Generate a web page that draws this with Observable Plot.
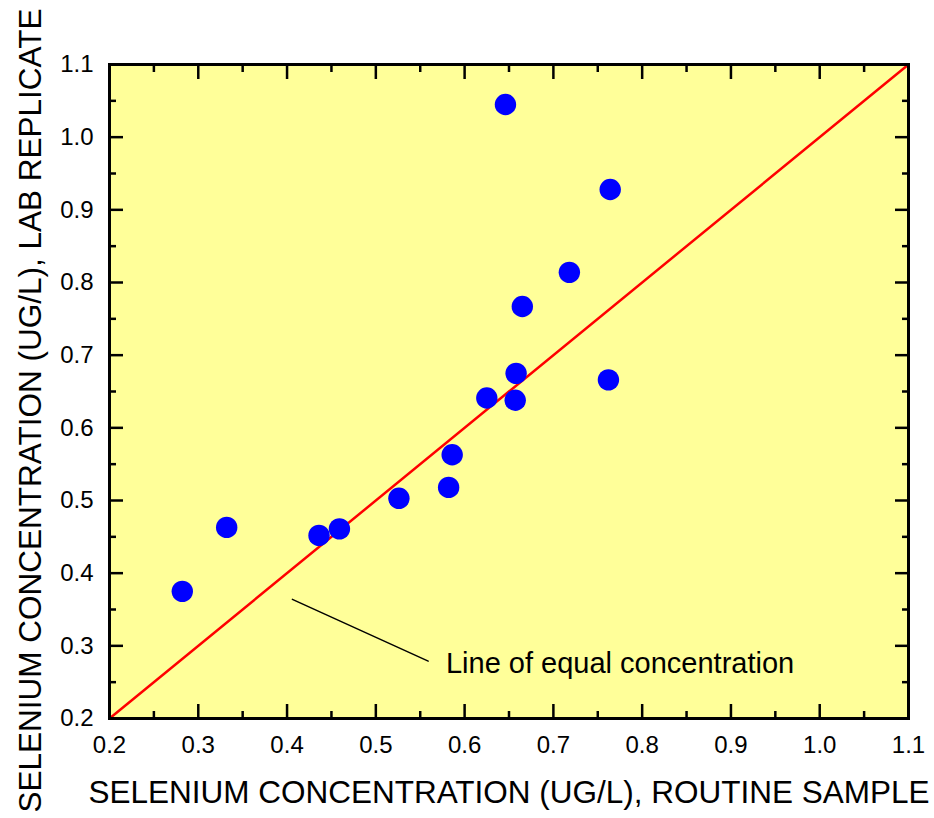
<!DOCTYPE html>
<html>
<head>
<meta charset="utf-8">
<script src="https://cdn.jsdelivr.net/npm/d3@7"></script>
<script src="https://cdn.jsdelivr.net/npm/@observablehq/plot@0.6"></script>
<style>
  html, body { margin: 0; padding: 0; background: #ffffff; }
  #chart svg { display: block; }
</style>
</head>
<body>
<div id="chart"></div>
<script>
// Data
const routine   = [0.282, 0.332, 0.436, 0.459, 0.526, 0.582, 0.586, 0.625, 0.657, 0.658, 0.762, 0.646, 0.764, 0.665, 0.718];
const replicate = [0.375, 0.463, 0.452, 0.461, 0.503, 0.518, 0.563, 0.641, 0.638, 0.675, 0.666, 1.045, 0.928, 0.767, 0.814];
const majorTicks = [0.2, 0.3, 0.4, 0.5, 0.6, 0.7, 0.8, 0.9, 1.0, 1.1];
const minorTicks = [0.25, 0.35, 0.45, 0.55, 0.65, 0.75, 0.85, 0.95, 1.05];
const equalLine = [{x: 0.2, y: 0.2}, {x: 1.1, y: 1.1}];
const leaderLine = [{x: 0.406, y: 0.364}, {x: 0.559, y: 0.279}];
const annotation = [{x: 0.579, y: 0.276, label: "Line of equal concentration"}];
const xTitle = "SELENIUM CONCENTRATION (UG/L), ROUTINE SAMPLE";
const yTitle = "SELENIUM CONCENTRATION (UG/L), LAB REPLICATE";

const points = routine.map((x, i) => ({x, y: replicate[i]}));
const fmt = d => d.toFixed(1);

const chart = Plot.plot({
  width: 934,
  height: 818,
  marginLeft: 109,
  marginRight: 26,
  marginTop: 64,
  marginBottom: 100,
  style: {fontFamily: "'Liberation Sans', Arial, Helvetica, sans-serif", background: "#ffffff", color: "#000"},
  x: {domain: [0.2, 1.1], axis: null},
  y: {domain: [0.2, 1.1], axis: null},
  marks: [
    Plot.frame({fill: "#ffff99", stroke: null}),
    Plot.line(equalLine, {x: "x", y: "y", stroke: "#ff0000", strokeWidth: 2.5}),
    Plot.line(leaderLine, {x: "x", y: "y", stroke: "#000", strokeWidth: 1.5}),
    Plot.text(annotation, {x: "x", y: "y", text: "label", textAnchor: "start", lineAnchor: "middle", fontSize: 29, fill: "#000"}),
    Plot.dot(points, {x: "x", y: "y", r: 10.7, fill: "#0000ff", stroke: null}),
    // major ticks (inward) on all four sides
    Plot.axisX({anchor: "bottom", ticks: majorTicks, tickSize: -14, text: null, label: null, strokeWidth: 2.5}),
    Plot.axisX({anchor: "top", ticks: majorTicks, tickSize: -14, text: null, label: null, strokeWidth: 2.5}),
    Plot.axisY({anchor: "left", ticks: majorTicks, tickSize: -14, text: null, label: null, strokeWidth: 2.5}),
    Plot.axisY({anchor: "right", ticks: majorTicks, tickSize: -14, text: null, label: null, strokeWidth: 2.5}),
    // minor ticks
    Plot.axisX({anchor: "bottom", ticks: minorTicks, tickSize: -7, text: null, label: null, strokeWidth: 2.5}),
    Plot.axisX({anchor: "top", ticks: minorTicks, tickSize: -7, text: null, label: null, strokeWidth: 2.5}),
    Plot.axisY({anchor: "left", ticks: minorTicks, tickSize: -7, text: null, label: null, strokeWidth: 2.5}),
    Plot.axisY({anchor: "right", ticks: minorTicks, tickSize: -7, text: null, label: null, strokeWidth: 2.5}),
    // tick labels
    Plot.text(majorTicks, {x: d => d, frameAnchor: "bottom", lineAnchor: "middle", dy: 27, text: fmt, fontSize: 24, fill: "#000"}),
    Plot.text(majorTicks, {y: d => d, frameAnchor: "left", textAnchor: "end", lineAnchor: "middle", dx: -16, text: fmt, fontSize: 24, fill: "#000"}),
    // titles
    Plot.text([xTitle], {frameAnchor: "bottom", textAnchor: "middle", lineAnchor: "middle", dy: 74, fontSize: 31.5, fill: "#000"}),
    Plot.text([yTitle], {frameAnchor: "left", textAnchor: "middle", lineAnchor: "middle", rotate: -90, dx: -79, dy: 19, fontSize: 31.5, fill: "#000"}),
    Plot.frame({stroke: "#000", strokeWidth: 3})
  ]
});
document.getElementById("chart").appendChild(chart);
</script>
</body>
</html>
